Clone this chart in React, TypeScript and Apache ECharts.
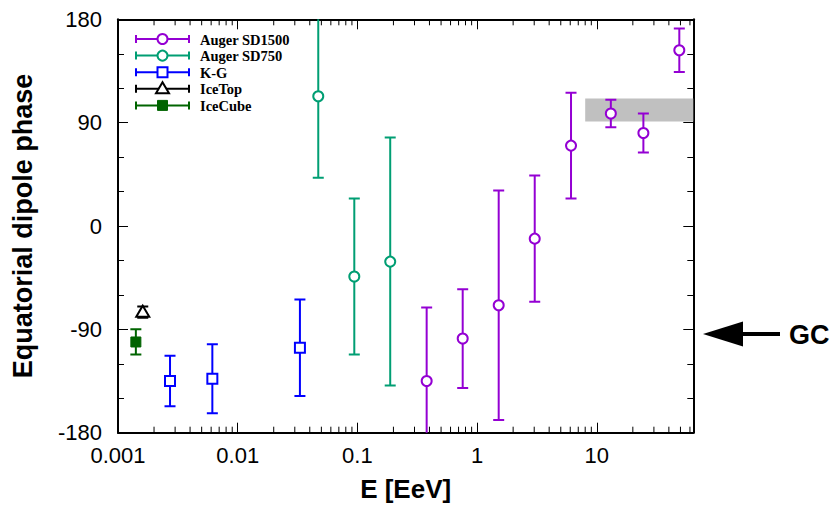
import React, { useEffect, useRef } from 'react';
import * as echarts from 'echarts';

// ---- Data ----
const sd1500E = [0.379, 0.758, 1.515, 3.03, 6.09, 13.1, 24.5, 48.9];
const sd1500Phase = [-135, -98, -69, -11, 70, 98, 81, 153];
const sd1500Err = [64, 43, 100, 55, 46, 12, 17, 19];

const sd750E = [0.0471, 0.0942, 0.188];
const sd750Phase = [113, -44, -31];
const sd750Err = [71, 68, 108];

const kgE = [0.00272, 0.00614, 0.0331];
const kgPhase = [-135, -133, -106];
const kgErr = [22, 30, 42];

const iceTopE = [0.00161];
const iceTopPhase = [-75];
const iceTopErr = [5];

const iceCubeE = [0.00141];
const iceCubePhase = [-101];
const iceCubeErr = [11];

const bandE = [8, 64];
const bandPhase = [91, 111];

const gcPhase = -94;
const gcLabel = 'GC';

const xMin = 0.001;
const xMax = 64;
const xTickValues = [0.001, 0.01, 0.1, 1, 10];
const xTickLabels = ['0.001', '0.01', '0.1', '1', '10'];
const xMinorTicks = [
  0.002, 0.003, 0.004, 0.005, 0.006, 0.007, 0.008, 0.009,
  0.02, 0.03, 0.04, 0.05, 0.06, 0.07, 0.08, 0.09,
  0.2, 0.3, 0.4, 0.5, 0.6, 0.7, 0.8, 0.9,
  2, 3, 4, 5, 6, 7, 8, 9,
  20, 30, 40, 50, 60,
];
const yMin = -180;
const yMax = 180;

const legendNames = ['Auger SD1500', 'Auger SD750', 'K-G', 'IceTop', 'IceCube'];
const legendColors = ['#9400d3', '#009e73', '#0000ff', '#000000', '#006400'];
const legendSymbols = ['circle', 'circle', 'square', 'triangle', 'filledSquare'];

const SANS = '"Liberation Sans", Arial, Helvetica, sans-serif';
const SERIF = '"Liberation Serif", "Times New Roman", serif';

function makeSymbol(kind: string, cx: number, cy: number, color: string): any {
  if (kind === 'circle') {
    return { type: 'circle', shape: { cx, cy, r: 5 }, style: { fill: '#fff', stroke: color, lineWidth: 2 } };
  }
  if (kind === 'square') {
    return { type: 'rect', shape: { x: cx - 5, y: cy - 5, width: 10, height: 10 }, style: { fill: '#fff', stroke: color, lineWidth: 2 } };
  }
  if (kind === 'filledSquare') {
    return { type: 'rect', shape: { x: cx - 5, y: cy - 5, width: 10, height: 10 }, style: { fill: color, stroke: color, lineWidth: 1 } };
  }
  // triangle
  return {
    type: 'polygon',
    shape: { points: [[cx, cy - 6.5], [cx - 6.5, cy + 4.5], [cx + 6.5, cy + 4.5]] },
    style: { fill: '#fff', stroke: color, lineWidth: 2 },
  };
}

function errSeries(name: string, E: number[], P: number[], Err: number[], color: string, kind: string): any {
  return {
    type: 'custom',
    name,
    clip: true,
    z: 3,
    data: E.map((e, i) => [e, P[i], P[i] - Err[i], P[i] + Err[i]]),
    renderItem: (params: any, api: any) => {
      const x = api.value(0);
      const c = api.coord([x, api.value(1)]);
      const lo = api.coord([x, api.value(2)]);
      const hi = api.coord([x, api.value(3)]);
      const cap = 5.5;
      const ls = { stroke: color, lineWidth: 2 };
      return {
        type: 'group',
        children: [
          { type: 'line', shape: { x1: c[0], y1: hi[1], x2: c[0], y2: lo[1] }, style: ls },
          { type: 'line', shape: { x1: c[0] - cap, y1: hi[1], x2: c[0] + cap, y2: hi[1] }, style: ls },
          { type: 'line', shape: { x1: c[0] - cap, y1: lo[1], x2: c[0] + cap, y2: lo[1] }, style: ls },
          makeSymbol(kind, c[0], c[1], color),
        ],
      };
    },
  };
}

function xLabel(v: number): string {
  for (let i = 0; i < xTickValues.length; i++) {
    if (Math.abs(Math.log10(v) - Math.log10(xTickValues[i])) < 1e-6) return xTickLabels[i];
  }
  return '';
}

export default function App() {
  const ref = useRef<HTMLDivElement>(null);
  useEffect(() => {
    if (!ref.current) return;
    const chart = echarts.init(ref.current, null, { renderer: 'svg' });
    const axisLine = { show: true, onZero: false, lineStyle: { color: '#000', width: 2 } };
    const tick = { show: true, inside: true, length: 10, lineStyle: { color: '#000', width: 1 } };
    const option: any = {
      animation: false,
      backgroundColor: '#fff',
      grid: { left: 118, right: 142.7, top: 19.3, bottom: 79.3, containLabel: false },
      xAxis: [
        {
          type: 'log', logBase: 10, min: xMin, max: xMax, position: 'bottom',
          axisLine, axisTick: tick, splitLine: { show: false },
          axisLabel: { fontSize: 22, color: '#000', fontFamily: SANS, margin: 12, formatter: xLabel, showMaxLabel: false },
          name: 'E [EeV]', nameLocation: 'middle', nameGap: 43,
          nameTextStyle: { fontSize: 26, fontWeight: 'bold', fontFamily: SANS, color: '#000' },
        },
        {
          type: 'log', logBase: 10, min: xMin, max: xMax, position: 'top',
          axisLine, axisTick: tick, splitLine: { show: false }, axisLabel: { show: false },
        },
      ],
      yAxis: [
        {
          type: 'value', min: yMin, max: yMax, interval: 90, position: 'left',
          axisLine, axisTick: tick,
          minorTick: { show: true, splitNumber: 3, length: 6, lineStyle: { color: '#000', width: 1 } },
          splitLine: { show: false }, minorSplitLine: { show: false },
          axisLabel: { fontSize: 22, color: '#000', fontFamily: SANS, margin: 16 },
          name: 'Equatorial dipole phase', nameLocation: 'middle', nameGap: 82,
          nameTextStyle: { fontSize: 27, fontWeight: 'bold', fontFamily: SANS, color: '#000' },
        },
        {
          type: 'value', min: yMin, max: yMax, interval: 90, position: 'right',
          axisLine, axisTick: tick,
          minorTick: { show: true, splitNumber: 3, length: 6, lineStyle: { color: '#000', width: 1 } },
          splitLine: { show: false }, minorSplitLine: { show: false },
          axisLabel: { show: false },
        },
      ],
      series: [
        {
          type: 'custom',
          name: 'band',
          clip: true,
          z: 1,
          data: [[bandE[0], bandPhase[0], bandE[1], bandPhase[1]]],
          renderItem: (params: any, api: any) => {
            const p1 = api.coord([api.value(0), api.value(3)]);
            const p2 = api.coord([api.value(2), api.value(1)]);
            return {
              type: 'rect',
              shape: { x: p1[0], y: p1[1], width: p2[0] - p1[0], height: p2[1] - p1[1] },
              style: { fill: '#c0c0c0' },
            };
          },
        },
        {
          type: 'custom',
          name: 'minorTicks',
          z: 5,
          silent: true,
          data: xMinorTicks.map((v) => [v, 0]),
          renderItem: (params: any, api: any) => {
            const p = api.coord([api.value(0), 0]);
            const cs = params.coordSys;
            const st = { stroke: '#000', lineWidth: 1 };
            return {
              type: 'group',
              children: [
                { type: 'line', shape: { x1: p[0], y1: cs.y + cs.height, x2: p[0], y2: cs.y + cs.height - 6 }, style: st },
                { type: 'line', shape: { x1: p[0], y1: cs.y, x2: p[0], y2: cs.y + 6 }, style: st },
              ],
            };
          },
        },
        errSeries(legendNames[0], sd1500E, sd1500Phase, sd1500Err, legendColors[0], legendSymbols[0]),
        errSeries(legendNames[1], sd750E, sd750Phase, sd750Err, legendColors[1], legendSymbols[1]),
        errSeries(legendNames[2], kgE, kgPhase, kgErr, legendColors[2], legendSymbols[2]),
        errSeries(legendNames[3], iceTopE, iceTopPhase, iceTopErr, legendColors[3], legendSymbols[3]),
        errSeries(legendNames[4], iceCubeE, iceCubePhase, iceCubeErr, legendColors[4], legendSymbols[4]),
      ],
    };
    chart.setOption(option);

    // Legend (drawn as graphics with error-bar glyphs)
    const graphics: any[] = [];
    legendNames.forEach((name, i) => {
      const y = 39 + i * 16.6;
      const color = legendColors[i];
      const ls = { stroke: color, lineWidth: 2 };
      graphics.push({ type: 'line', shape: { x1: 136, y1: y, x2: 189, y2: y }, style: ls, z: 10 });
      graphics.push({ type: 'line', shape: { x1: 136, y1: y - 4, x2: 136, y2: y + 4 }, style: ls, z: 10 });
      graphics.push({ type: 'line', shape: { x1: 189, y1: y - 4, x2: 189, y2: y + 4 }, style: ls, z: 10 });
      const sym = makeSymbol(legendSymbols[i], 162.5, y, color);
      sym.z = 11;
      graphics.push(sym);
      graphics.push({
        type: 'text', x: 200, y: y + 0.5, z: 10,
        style: {
          text: name, fill: '#000', fontSize: 14.5, lineHeight: 14, fontWeight: 'bold', fontFamily: SERIF,
          verticalAlign: 'middle', align: 'left',
        },
      });
    });

    // GC arrow annotation
    const gy = chart.convertToPixel({ yAxisIndex: 0 }, gcPhase) as number;
    graphics.push({
      type: 'polygon', z: 10,
      shape: { points: [[703, gy], [743, gy - 12.5], [743, gy + 12.5]] },
      style: { fill: '#000' },
    });
    graphics.push({ type: 'rect', z: 10, shape: { x: 741, y: gy - 2, width: 39, height: 4 }, style: { fill: '#000' } });
    graphics.push({
      type: 'text', x: 789, y: gy + 1, z: 10,
      style: {
        text: gcLabel, fill: '#000', fontSize: 27, fontWeight: 'bold', fontFamily: SANS,
        verticalAlign: 'middle', align: 'left',
      },
    });
    chart.setOption({ graphic: graphics });

    return () => chart.dispose();
  }, []);
  return <div ref={ref} style={{ position: 'absolute', left: 0, top: 0, width: 836, height: 512 }} />;
}
